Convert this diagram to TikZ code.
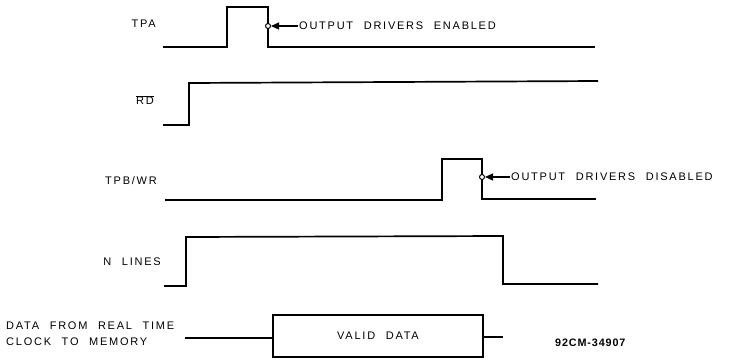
\documentclass[tikz,border=0pt]{standalone}
\usepackage{fontspec}
\usepackage{tikz}
\usetikzlibrary{arrows.meta,positioning}
\newfontfamily\sigfont{Liberation Sans}[LetterSpace=16,WordSpace=2.2]
\newfontfamily\tagfont{Liberation Sans}[LetterSpace=8]

\begin{document}
\begin{tikzpicture}[
    x=1pt, y=-1pt,
    wave/.style={line width=1.7pt, line join=miter},
    busline/.style={line width=1.4pt},
    siglabel/.style={anchor=east, inner sep=1pt, font=\sigfont\fontsize{11}{16}\selectfont},
    note/.style={anchor=west, inner sep=1pt, font=\sigfont\fontsize{11}{16}\selectfont},
    tapring/.style={circle, draw, fill=white, inner sep=0pt, minimum size=5pt, line width=1pt},
    pointer/.style={-{Triangle[length=8pt,width=7pt]}, line width=1.1pt},
    databox/.style={rectangle, draw, line width=1.6pt, minimum width=210pt, minimum height=42pt, inner sep=0pt, font=\sigfont\fontsize{11}{16}\selectfont}
]
  \useasboundingbox[fill=white] (0,0) rectangle (744,362);

  % TPA
  \node[siglabel] (tpa) at (157,24) {TPA};
  \draw[wave] (163,47) -- (227,47) -- (227,7) -- (268,7) -- (268,47) -- (595,47);
  \node[tapring] (en) at (268,26) {};
  \node[note] (enabled) at (298,26) {OUTPUT DRIVERS ENABLED};
  \draw[pointer] (enabled.west) -- (en.east);

  % RD
  \node[siglabel] (rd) at (155,100) {$\overline{\hbox{\sigfont\fontsize{11}{16}\selectfont RD}}$};
  \draw[wave] (163,125) -- (189,125) -- (189,83) -- (598,81);

  % TPB/WR
  \node[siglabel] (tpb) at (158,181) {TPB/WR};
  \draw[wave] (165,200) -- (442,200) -- (442,159) -- (482,159) -- (482,199) -- (596,199);
  \node[tapring] (dis) at (482,177) {};
  \node[note] (disabled) at (510,177) {OUTPUT DRIVERS DISABLED};
  \draw[pointer] (disabled.west) -- (dis.east);

  % N lines
  \node[siglabel] (nl) at (162,262) {N LINES};
  \draw[wave] (164,286) -- (186,286) -- (186,237) -- (503,236) -- (503,284) -- (598,284);

  % data
  \node[note, align=left] (src) at (5,334) {DATA FROM REAL TIME\\CLOCK TO MEMORY};
  \node[databox] (valid) at (378,336) {VALID DATA};
  \coordinate (din) at (185,338);
  \coordinate (dout) at (503,337);
  \draw[busline] (din) -- (din -| valid.west);
  \draw[busline] (dout -| valid.east) -- (dout);

  \node[anchor=west, inner sep=0pt, font=\tagfont\bfseries\fontsize{10.8}{13}\selectfont] (fig) at (555,343) {92CM-34907};
\end{tikzpicture}
\end{document}
